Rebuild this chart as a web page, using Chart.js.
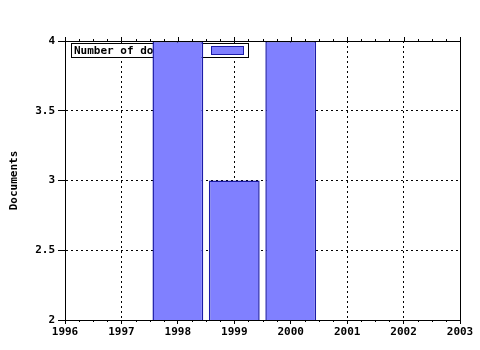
<!DOCTYPE html>
<html>
<head>
<meta charset="utf-8">
<script src="https://cdn.jsdelivr.net/npm/chart.js@4/dist/chart.umd.min.js"></script>
<style>
  body { margin: 0; background: #fff; }
  canvas { display: block; }
</style>
</head>
<body>
<canvas id="docChart" width="480" height="350"></canvas>
<script>
// Chart data
const years = [1998, 1999, 2000];
const documents = [4, 3, 4];
const seriesLabel = 'Number of documents';
const xRange = [1996, 2003];
const yRange = [2, 4];
const yStep = 0.5;

const pixelFont = { family: '"DejaVu Sans Mono", monospace', size: 11, weight: 'bold' };

// Legend box drawn inside the plot, behind the bars
const boxLegend = {
  id: 'boxLegend',
  beforeDatasetsDraw(chart) {
    const { ctx, chartArea } = chart;
    const ds = chart.data.datasets[0];
    const x = chartArea.left + 6, y = chartArea.top + 2;
    ctx.save();
    ctx.fillStyle = '#fff';
    ctx.fillRect(x, y, 177, 14);
    ctx.strokeStyle = '#000';
    ctx.lineWidth = 1;
    ctx.strokeRect(x + 0.5, y + 0.5, 177, 14);
    ctx.fillStyle = '#000';
    ctx.font = 'bold 11px "DejaVu Sans Mono", monospace';
    ctx.textBaseline = 'middle';
    ctx.fillText(ds.label, x + 3, y + 8);
    ctx.fillStyle = ds.backgroundColor;
    ctx.fillRect(x + 140, y + 3, 32, 8);
    ctx.strokeStyle = ds.borderColor;
    ctx.strokeRect(x + 140.5, y + 3.5, 32, 8);
    ctx.restore();
  }
};

// Frame on top/right plus minor ticks
const frameTicks = {
  id: 'frameTicks',
  afterDraw(chart) {
    const { ctx, chartArea } = chart;
    const xs = chart.scales.x;
    ctx.save();
    ctx.strokeStyle = '#000';
    ctx.lineWidth = 1;
    ctx.beginPath();
    ctx.moveTo(chartArea.left, chartArea.top + 0.5);
    ctx.lineTo(chartArea.right + 0.5, chartArea.top + 0.5);
    ctx.lineTo(chartArea.right + 0.5, chartArea.bottom);
    for (let v = xRange[0]; v <= xRange[1] + 0.001; v += 0.25) {
      const px = Math.round(xs.getPixelForValue(v)) + 0.5;
      const major = Math.abs(v - Math.round(v)) < 0.001;
      ctx.moveTo(px, chartArea.top);
      ctx.lineTo(px, chartArea.top - (major ? 4 : 2));
      if (!major) {
        ctx.moveTo(px, chartArea.bottom);
        ctx.lineTo(px, chartArea.bottom + 2);
      }
    }
    ctx.stroke();
    ctx.restore();
  }
};

new Chart(document.getElementById('docChart'), {
  type: 'bar',
  data: {
    datasets: [{
      label: seriesLabel,
      data: years.map((y, i) => ({ x: y, y: documents[i] })),
      backgroundColor: '#8080ff',
      borderColor: '#1c1ca8',
      borderWidth: 1.5,
      categoryPercentage: 1,
      barPercentage: 0.9
    }]
  },
  options: {
    responsive: false,
    animation: false,
    layout: { padding: { top: 41, right: 20, left: 0, bottom: 0 } },
    plugins: { legend: { display: false }, tooltip: { enabled: false } },
    scales: {
      x: {
        type: 'linear',
        min: xRange[0],
        max: xRange[1],
        offset: false,
        afterFit: s => { s.height = 30; },
        ticks: {
          stepSize: 1,
          color: '#000',
          font: pixelFont,
          padding: 2,
          maxRotation: 0,
          callback: v => String(v)
        },
        grid: { offset: false, color: '#000', tickColor: '#000', tickLength: 4 },
        border: { color: '#000', width: 1, dash: [2, 3] }
      },
      y: {
        min: yRange[0],
        max: yRange[1],
        afterFit: s => { s.width = 65; },
        ticks: { stepSize: yStep, color: '#000', font: pixelFont, padding: 3, callback: v => String(v) },
        grid: { color: '#000', tickColor: '#000', tickLength: 7 },
        border: { color: '#000', width: 1, dash: [2, 3] },
        title: {
          display: true,
          text: 'Documents',
          color: '#000',
          font: pixelFont,
          padding: { top: 8, bottom: 0 }
        }
      }
    }
  },
  plugins: [boxLegend, frameTicks]
});
</script>
</body>
</html>
